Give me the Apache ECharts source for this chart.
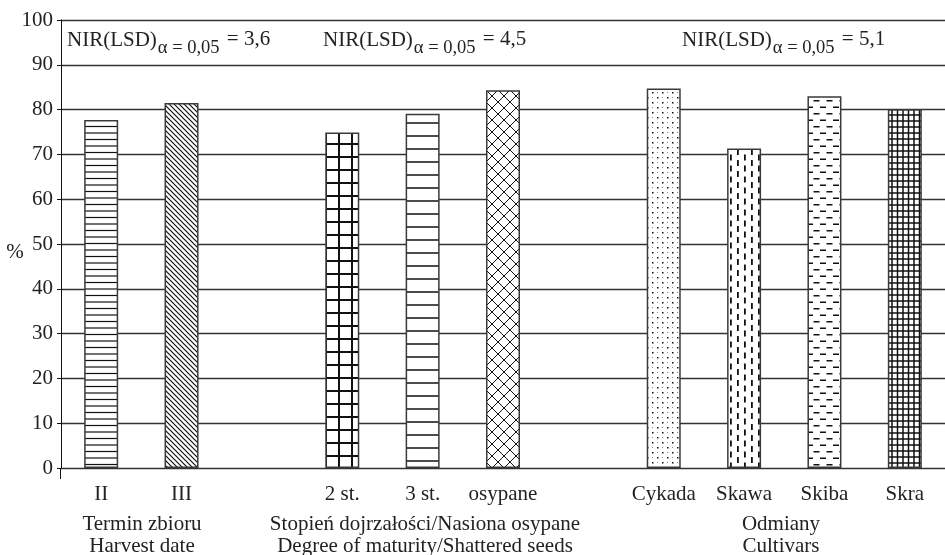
<!DOCTYPE html>
<html>
<head>
<meta charset="utf-8">
<script src="https://cdn.jsdelivr.net/npm/echarts@6/dist/echarts.min.js"></script>
<style>
  html, body { margin: 0; padding: 0; background: #fff; }
  #main { width: 945px; height: 555px; }
</style>
</head>
<body>
<div id="main"></div>
<script>
// categories (blank ones separate the three groups)
const categories = ['II', 'III', '', '2 st.', '3 st.', 'osypane', '', 'Cykada', 'Skawa', 'Skiba', 'Skra'];
const values = [77.7, 81.5, null, 74.9, 79.1, 84.3, null, 84.7, 71.3, 83.0, 80.1];
const groupNames = [
  'Termin zbioru\nHarvest date',
  'Stopień dojrzałości/Nasiona osypane\nDegree of maturity/Shattered seeds',
  'Odmiany\nCultivars'
];
const lsdValues = ['3,6', '4,5', '5,1'];

const SERIF = '"Liberation Serif", "DejaVu Serif", serif';
const FS = 21;       // main text size
const FS_SUB = 18.5; // subscript size

// hatch fills, one per category
function pat(w, h, draw) {
  const c = document.createElement('canvas');
  c.width = w; c.height = h;
  const g = c.getContext('2d');
  g.fillStyle = '#fff';
  g.fillRect(0, 0, w, h);
  g.strokeStyle = '#111';
  g.fillStyle = '#111';
  draw(g, w, h);
  return { image: c, repeat: 'repeat' };
}
function hline(g, y, w, lw) {
  g.lineWidth = lw;
  g.beginPath(); g.moveTo(0, y); g.lineTo(w, y); g.stroke();
}
function vline(g, x, h, lw) {
  g.lineWidth = lw;
  g.beginPath(); g.moveTo(x, 0); g.lineTo(x, h); g.stroke();
}

const fills = {
  hfine: pat(4, 13, (g, w) => { hline(g, 3, w, 1.2); hline(g, 9.5, w, 1.2); }),
  diag: pat(5, 5, (g) => {
    g.lineWidth = 1.2;
    g.beginPath();
    g.moveTo(-1, -1); g.lineTo(6, 6);
    g.moveTo(-1, 4); g.lineTo(1, 6);
    g.moveTo(4, -1); g.lineTo(6, 1);
    g.stroke();
  }),
  grid13: pat(13, 13, (g, w, h) => { vline(g, 1, h, 2); hline(g, 1, w, 2); }),
  hwide: pat(4, 13, (g, w) => { hline(g, 6, w, 1.5); }),
  diamond: pat(12, 12, (g) => {
    g.lineWidth = 1;
    g.beginPath();
    g.moveTo(0, 0); g.lineTo(12, 12);
    g.moveTo(12, 0); g.lineTo(0, 12);
    g.stroke();
  }),
  dots: pat(10, 10, (g) => {
    g.fillRect(2, 2, 1.5, 1.5); g.fillRect(7, 7, 1.5, 1.5);
    g.fillStyle = '#888';
    g.fillRect(7, 2, 1, 1); g.fillRect(2, 7, 1, 1);
  }),
  vdash: pat(14, 11, (g) => {
    g.fillRect(2, 0.5, 1.8, 6);
    g.fillRect(9, 6, 1.8, 6);
    g.fillRect(9, -5, 1.8, 6);
  }),
  hdash: pat(13, 13, (g) => {
    g.fillRect(1, 2.5, 6, 1.5);
    g.fillRect(7.5, 9, 6, 1.5);
    g.fillRect(-5.5, 9, 6, 1.5);
  }),
  gridFine: pat(11, 12, (g, w, h) => {
    vline(g, 1, h, 1.5); vline(g, 6.5, h, 1.5);
    hline(g, 1, w, 1.5); hline(g, 7, w, 1.5);
  })
};
const fillOrder = ['hfine', 'diag', null, 'grid13', 'hwide', 'diamond', null, 'dots', 'vdash', 'hdash', 'gridFine'];

// text widths for placing the subscript pieces
const meas = document.createElement('canvas').getContext('2d');
function textW(t, size) {
  meas.font = size + 'px "Liberation Serif"';
  return meas.measureText(t).width;
}

const chart = echarts.init(document.getElementById('main'));

const lsdLeft = [67, 323, 682];
const groupCenter = [142, 425, 781];

function txt(t, x, y, size, align, vAlign) {
  return {
    type: 'text', x: x, y: y, silent: true,
    style: { text: t, fontFamily: SERIF, fontSize: size, fill: '#222', align: align, verticalAlign: vAlign }
  };
}

const graphics = [];
lsdValues.forEach((v, i) => {
  const head = 'NIR(LSD)';
  const sub = 'α = 0,05';
  const x0 = lsdLeft[i];
  const x1 = x0 + textW(head, FS) + 1;
  const x2 = x1 + textW(sub, FS_SUB) + 2;
  graphics.push(txt(head, x0, 40, FS, 'left', 'middle'));
  graphics.push(txt(sub, x1, 48, FS_SUB, 'left', 'middle'));
  graphics.push(txt(' = ' + v, x2, 39, FS, 'left', 'middle'));
});
groupNames.forEach((t, i) => {
  graphics.push({
    type: 'text',
    x: groupCenter[i],
    y: 513,
    silent: true,
    style: {
      text: t,
      fontFamily: SERIF,
      fontSize: FS,
      lineHeight: 22,
      fill: '#222',
      align: 'center',
      verticalAlign: 'top'
    }
  });
});
graphics.push(txt('%', 15, 252, FS, 'center', 'middle'));
// y axis line runs a little below zero
graphics.push({
  type: 'line',
  silent: true,
  shape: { x1: 60.5, y1: 468, x2: 60.5, y2: 479 },
  style: { stroke: '#111', lineWidth: 1 }
});

const option = {
  animation: false,
  backgroundColor: '#fff',
  grid: { left: 61, top: 20, width: 890, bottom: 87 },
  xAxis: {
    type: 'category',
    data: categories,
    axisLine: { show: false },
    axisTick: { show: false },
    axisLabel: { interval: 0, margin: 16, fontFamily: SERIF, fontSize: FS, color: '#222' }
  },
  yAxis: {
    type: 'value',
    min: 0,
    max: 100,
    interval: 10,
    axisLine: { show: true, lineStyle: { color: '#111', width: 1 } },
    axisTick: { show: true, length: 4, lineStyle: { color: '#111' } },
    axisLabel: { margin: 8, fontFamily: SERIF, fontSize: FS, color: '#222' },
    splitLine: { show: true, lineStyle: { color: '#333', width: 1.3 } }
  },
  series: [{
    type: 'bar',
    barWidth: 34,
    silent: true,
    data: values.map((v, i) => v == null ? '-' : {
      value: v,
      itemStyle: { color: fills[fillOrder[i]], borderColor: '#3a3a3a', borderWidth: 1.5 }
    })
  }],
  graphic: graphics
};
chart.setOption(option);
</script>
</body>
</html>
